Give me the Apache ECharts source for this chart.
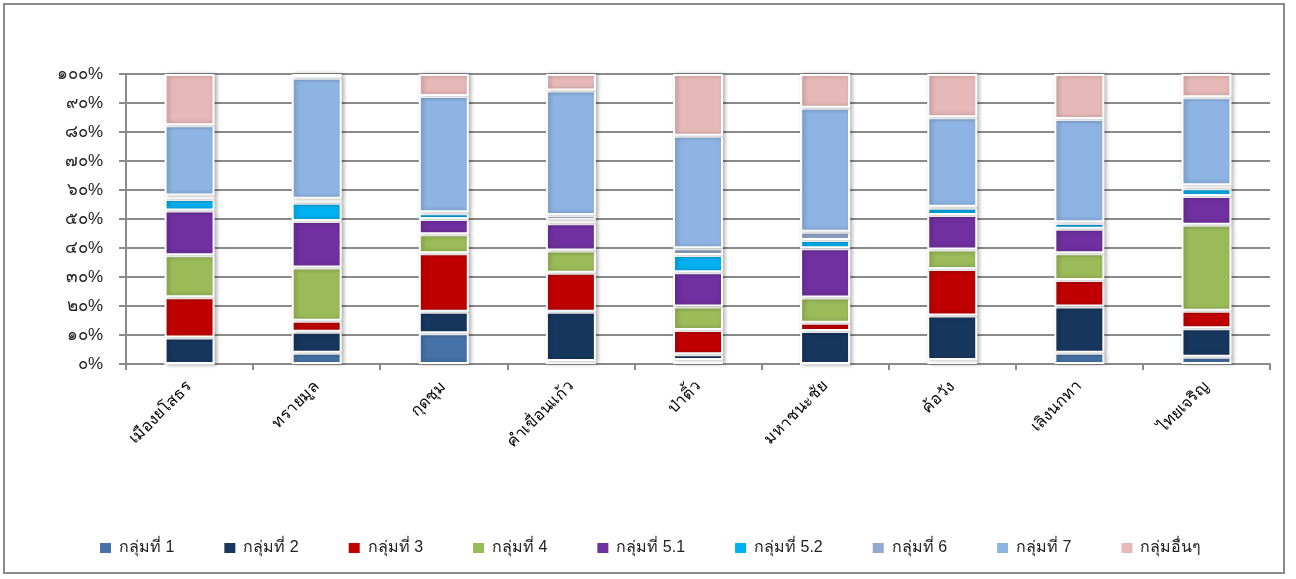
<!DOCTYPE html>
<html>
<head>
<meta charset="utf-8">
<script src="https://cdn.jsdelivr.net/npm/echarts@6/dist/echarts.min.js"></script>
<style>
  html, body { margin: 0; padding: 0; background: #fff; }
  #frame { position: absolute; left: 3px; top: 3px; width: 1282px; height: 571px; border: 2px solid #8a8a8a; box-sizing: border-box; }
  #chart { position: absolute; left: 0; top: 0; width: 1296px; height: 579px; }
</style>
</head>
<body>
<div id="frame"></div>
<div id="chart"></div>
<script>
// Districts (categories)
const districts = ['เมืองยโสธร', 'ทรายมูล', 'กุดชุม', 'คำเขื่อนแก้ว', 'ป่าติ้ว', 'มหาชนะชัย', 'ค้อวัง', 'เลิงนกทา', 'ไทยเจริญ'];

// Share of each group per district (%)
const group1  = [0.0,  3.9, 10.6,  1.0,  1.4,  0.0,  1.4,  3.9,  2.5];
const group2  = [9.1,  7.2,  7.4, 17.0,  2.0, 11.4, 15.3, 15.9,  9.8];
const group3  = [13.9, 3.8, 20.2, 13.5,  8.3,  2.8, 16.1,  9.2,  6.1];
const group4  = [14.5, 18.4, 6.5,  7.6,  8.1,  8.7,  6.7,  9.2, 29.6];
const group51 = [15.4, 16.0, 5.3,  9.4, 11.8, 17.0, 11.9,  8.4,  9.9];
const group52 = [4.0,  6.3,  2.0,  1.2,  6.0,  2.9,  2.5,  2.0,  2.7];
const group6  = [1.2,  1.4,  0.3,  1.7,  2.3,  2.8,  0.3,  0.3,  1.0];
const group7  = [24.2, 41.7, 40.1, 42.9, 38.8, 42.8, 30.9, 35.6, 30.4];
const others  = [17.7, 1.3,  7.6,  5.7, 21.3, 11.6, 14.9, 15.5,  8.0];

// Series names as shown in the legend
const seriesNames = ['กลุ่มที่ 1', 'กลุ่มที่ 2', 'กลุ่มที่ 3', 'กลุ่มที่ 4', 'กลุ่มที่ 5.1', 'กลุ่มที่ 5.2', 'กลุ่มที่ 6', 'กลุ่มที่ 7', 'กลุ่มอื่นๆ'];
const seriesData = [group1, group2, group3, group4, group51, group52, group6, group7, others];
const seriesColors = ['#4572A7', '#17375E', '#C00000', '#9BBB59', '#7030A0', '#00B0F0', '#95A9CE', '#8EB4E3', '#E6B9B8'];

// Value-axis tick labels in Thai numerals
const yTickLabels = ['๐%', '๑๐%', '๒๐%', '๓๐%', '๔๐%', '๕๐%', '๖๐%', '๗๐%', '๘๐%', '๙๐%', '๑๐๐%'];

const chart = echarts.init(document.getElementById('chart'));
const font = 'Liberation Sans, Arial, sans-serif';

chart.setOption({
  animation: false,
  backgroundColor: 'transparent',
  grid: { left: 126, right: 26, top: 74, bottom: 215 },
  legend: {
    bottom: 18,
    left: 93,
    itemWidth: 13,
    itemHeight: 12,
    itemGap: 48,
    icon: 'rect',
    textStyle: { fontFamily: font, fontSize: 16, color: '#222', padding: [0, 0, 0, 2] },
    data: seriesNames
  },
  xAxis: {
    type: 'category',
    data: districts,
    axisLine: { lineStyle: { color: '#8a8a8a', width: 2 } },
    axisTick: { show: true, length: 6, lineStyle: { color: '#8a8a8a', width: 2 } },
    axisLabel: { rotate: 45, margin: 20, fontFamily: font, fontSize: 16, color: '#000' }
  },
  yAxis: {
    type: 'value',
    min: 0,
    max: 100,
    interval: 10,
    axisLine: { show: true, lineStyle: { color: '#8a8a8a', width: 2 } },
    axisTick: { show: true, length: 7, lineStyle: { color: '#8a8a8a', width: 2 } },
    splitLine: { lineStyle: { color: '#8a8a8a', width: 2 } },
    axisLabel: {
      margin: 23,
      fontFamily: font,
      fontSize: 17,
      color: '#222',
      formatter: v => yTickLabels[Math.round(v / 10)]
    }
  },
  series: seriesNames.map((name, i) => ({
    name,
    type: 'bar',
    stack: 'total',
    barWidth: 50,
    data: seriesData[i],
    itemStyle: {
      color: seriesColors[i],
      borderColor: '#ffffff',
      borderWidth: 2,
      shadowBlur: 4,
      shadowColor: 'rgba(0,0,0,0.28)',
      shadowOffsetX: 2,
      shadowOffsetY: 0
    }
  }))
});
</script>
</body>
</html>
